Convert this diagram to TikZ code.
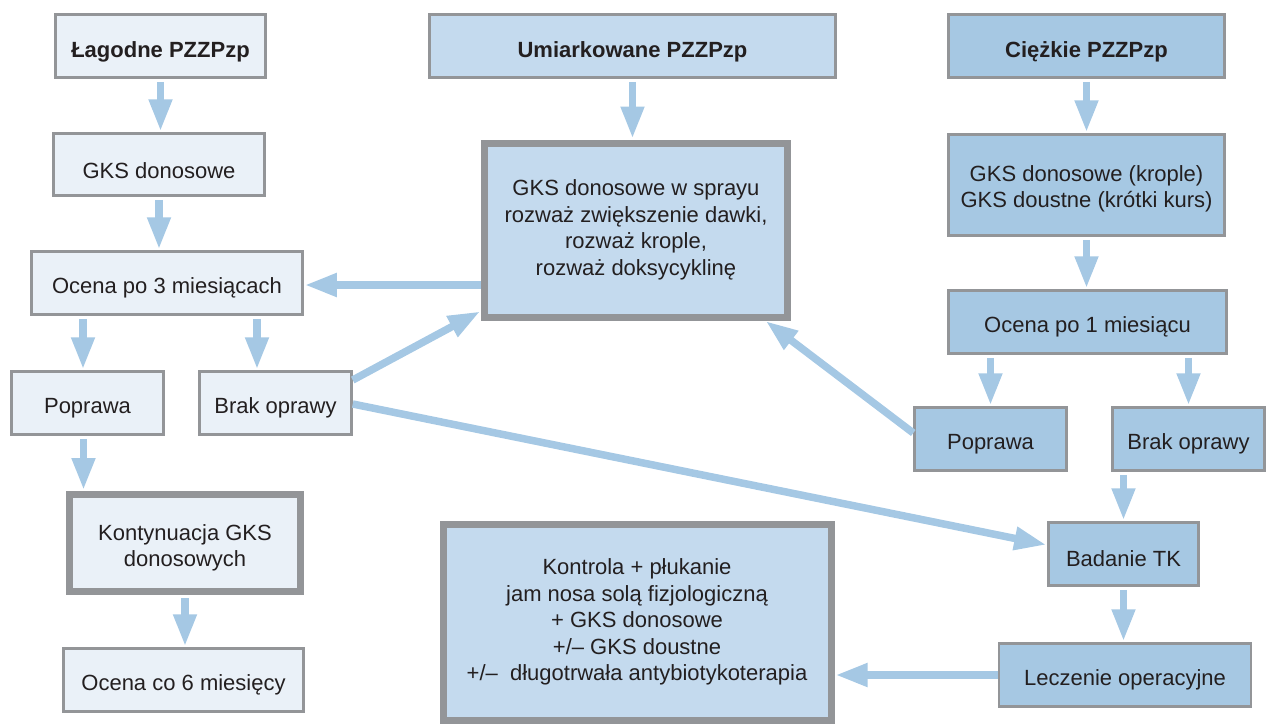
\documentclass[tikz,border=0pt]{standalone}
\usepackage{fontspec}
\setmainfont{Liberation Sans}
\usetikzlibrary{arrows.meta,calc}
\definecolor{fillA}{RGB}{234,241,248}
\definecolor{fillB}{RGB}{196,218,238}
\definecolor{fillC}{RGB}{166,200,227}
\definecolor{bordc}{RGB}{147,149,152}
\definecolor{arrc}{RGB}{165,200,228}
\definecolor{textc}{RGB}{35,31,32}
\newcommand{\lowtxt}[2][-5pt]{\raisebox{#1}[\height][\depth]{#2}}
\begin{document}
\begin{tikzpicture}[x=1pt,y=-1pt,
  box/.style={rectangle, draw=bordc, line width=2.5pt, align=center, inner sep=0pt,
    font=\fontsize{22}{26.5}\selectfont, text=textc},
  heavy/.style={line width=7pt},
  lA/.style={box, fill=fillA},
  lB/.style={box, fill=fillB},
  lC/.style={box, fill=fillC},
  arr/.style={draw=arrc, line width=7.5pt, shorten <=3pt, shorten >=1pt,
    -{Triangle[width=22pt,length=32pt]}}]
\useasboundingbox (0,0) rectangle (1269,723);
% left column
\node[lA, minimum width=210pt, minimum height=63pt] (lag) at (160.5,46) {\lowtxt[-6pt]{\bfseries Łagodne PZZPzp}};
\node[lA, minimum width=211pt, minimum height=62pt] (gks) at (159,164.5) {\lowtxt[-6pt]{GKS donosowe}};
\node[lA, minimum width=271pt, minimum height=63pt] (oc3) at (167,283) {\lowtxt{Ocena po 3 miesiącach}};
\node[lA, minimum width=152pt, minimum height=63pt] (pop1) at (87.5,403) {\lowtxt{Poprawa}};
\node[lA, minimum width=152pt, minimum height=63pt] (brak1) at (275.5,403) {\lowtxt{Brak oprawy}};
\node[lA, heavy, minimum width=231pt, minimum height=97pt] (kont) at (185,543) {\lowtxt{\begin{tabular}{@{}c@{}}Kontynuacja GKS\\donosowych\end{tabular}}};
\node[lA, minimum width=240pt, minimum height=63pt] (oc6) at (183.5,680) {\lowtxt{Ocena co 6 miesięcy}};
% middle column
\node[lB, minimum width=406pt, minimum height=63pt] (umi) at (632.5,46) {\lowtxt[-6pt]{\bfseries Umiarkowane PZZPzp}};
\node[lB, heavy, minimum width=303pt, minimum height=174pt] (spray) at (636,230) {GKS donosowe w sprayu\\rozważ zwiększenie dawki,\\rozważ krople,\\rozważ doksycyklinę};
\node[lB, heavy, minimum width=388pt, minimum height=196pt] (kontr) at (637,622) {Kontrola + płukanie\\jam nosa solą fizjologiczną\\+ GKS donosowe\\+/– GKS doustne\\+/–\ \ długotrwała antybiotykoterapia};
% right column
\node[lC, minimum width=276pt, minimum height=63pt] (cie) at (1086.5,46) {\lowtxt[-6pt]{\bfseries Ciężkie PZZPzp}};
\node[lC, minimum width=276pt, minimum height=101pt] (krop) at (1086.5,185) {\lowtxt[-4pt]{\begin{tabular}{@{}c@{}}GKS donosowe (krople)\\GKS doustne (krótki kurs)\end{tabular}}};
\node[lC, minimum width=278pt, minimum height=63pt] (oc1) at (1087.5,322) {\lowtxt{Ocena po 1 miesiącu}};
\node[lC, minimum width=152pt, minimum height=63pt] (pop2) at (990.5,439) {\lowtxt{Poprawa}};
\node[lC, minimum width=152pt, minimum height=63pt] (brak2) at (1188.5,439) {\lowtxt{Brak oprawy}};
\node[lC, minimum width=150pt, minimum height=63pt] (tk) at (1123.5,554) {\lowtxt{Badanie TK}};
\node[lC, minimum width=252pt, minimum height=63pt] (lecz) at (1125,675) {\lowtxt{Leczenie operacyjne}};
% arrows
\draw[arr] (lag.south) -- (lag.south |- gks.north);
\draw[arr] (gks.south) -- (gks.south |- oc3.north);
\draw[arr] ([xshift=-84pt]oc3.south) -- ([xshift=-84pt]oc3.south |- pop1.north);
\draw[arr] ([xshift=90pt]oc3.south) -- ([xshift=90pt]oc3.south |- brak1.north);
\draw[arr] ([xshift=-4pt]pop1.south) -- ([xshift=-4pt]pop1.south |- kont.north);
\draw[arr] (kont.south) -- (kont.south |- oc6.north);
\draw[arr, shorten <=0pt] ([yshift=-55pt]spray.west) -- ([yshift=-55pt]spray.west -| oc3.east);
\draw[arr, shorten <=0pt] ([yshift=23pt]brak1.east) -- ([yshift=-81pt]spray.west);
\draw[arr, shorten <=0pt] ([yshift=-1pt]brak1.east) -- ([yshift=9pt]tk.west);
\draw[arr] (umi.south) -- (umi.south |- spray.north);
\draw[arr] (cie.south) -- (cie.south |- krop.north);
\draw[arr] (krop.south) -- (krop.south |- oc1.north);
\draw[arr] (pop2.north |- oc1.south) -- (pop2.north);
\draw[arr] (brak2.north |- oc1.south) -- (brak2.north);
\draw[arr, shorten <=0pt] ([yshift=6pt]pop2.west) -- ([xshift=129pt]spray.south);
\draw[arr] (tk.north |- brak2.south) -- (tk.north);
\draw[arr] (tk.south) -- (tk.south |- lecz.north);
\draw[arr, shorten <=0pt] (lecz.west) -- (lecz.west -| kontr.east);
\end{tikzpicture}
\end{document}
